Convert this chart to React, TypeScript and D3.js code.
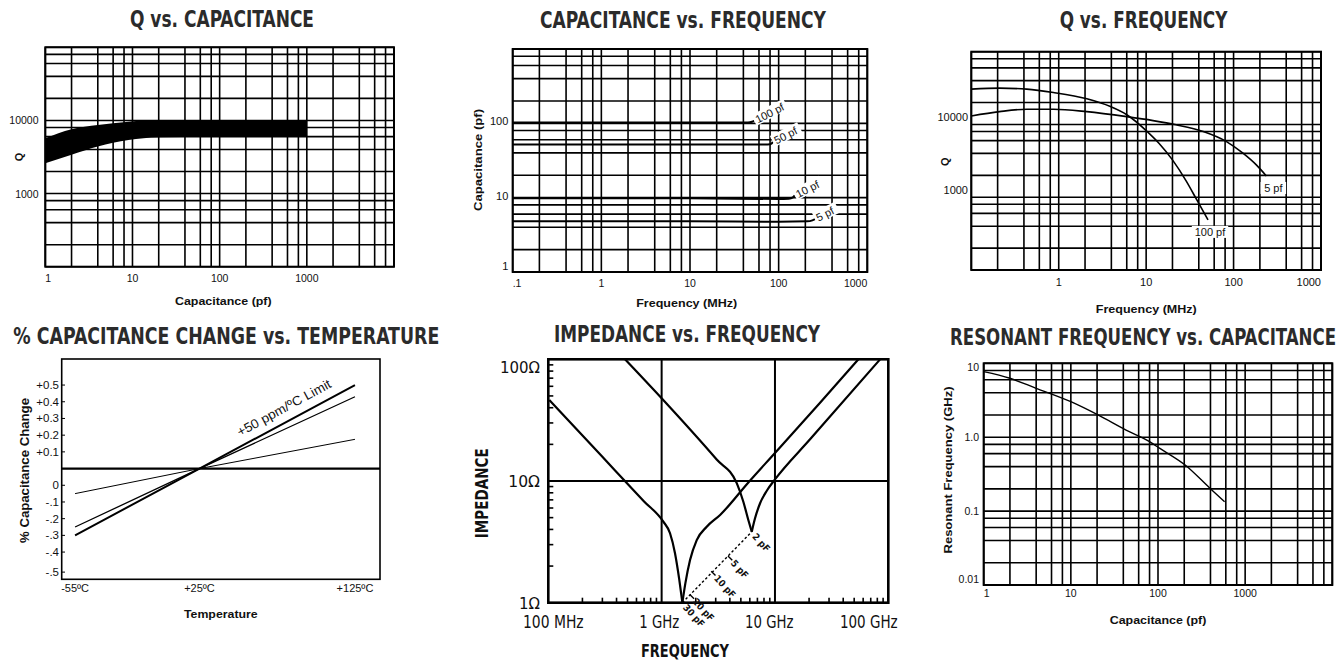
import React, { useLayoutEffect, useRef, useState } from "react";
import * as d3 from "d3";

const W = 1343;
const H = 665;
const SANS = "'Liberation Sans', Arial, Helvetica, sans-serif";
const NARROW = "'Liberation Sans Narrow', 'DejaVu Sans Condensed', 'Arial Narrow', 'Liberation Sans', sans-serif";

// mantissas of the printed log grid (1, 2, 4, 6, 8 per decade)
const gridSteps = [1, 2, 4, 6, 8];

// ---- Q vs. capacitance (band)
const qcCap = [1, 2, 4, 9, 20, 70, 1000];
const qcUpper = [5700, 7600, 8650, 9600, 10100, 10100, 9900];
const qcLower = [2600, 3400, 4400, 5400, 5900, 6000, 6100];
const qcXTicks = [1, 10, 100, 1000];
const qcYTicks = [10000, 1000];

// ---- Capacitance vs. frequency
const cf100Freq = [0.1, 1, 10, 45, 50, 53];
const cf100Cap = [103, 103, 103, 103, 105, 108];
const cf50Freq = [0.1, 1, 10, 70, 80, 84, 86];
const cf50Cap = [52, 52, 52, 52, 52.5, 54, 56.5];
const cf10Freq = [0.1, 1, 10, 100, 130, 145, 152];
const cf10Cap = [9.8, 9.8, 9.8, 9.6, 9.7, 10.1, 10.7];
const cf5Freq = [0.1, 1, 10, 100, 210, 240, 257];
const cf5Cap = [4.8, 4.8, 4.8, 4.75, 4.8, 4.95, 5.15];
const cfLabels = ["100 pf", "50 pf", "10 pf", "5 pf"];
const cfXTicks = [0.1, 1, 10, 100, 1000];
const cfXTickText = [".1", "1", "10", "100", "1000"];
const cfYTicks = [100, 10, 1];

// ---- Q vs. frequency
const qf100Freq = [0.1, 0.21, 0.43, 0.87, 2.1, 3.9, 6, 10, 14, 20, 29, 38, 51];
const qf100Q = [30600, 31600, 30600, 27500, 22500, 17600, 13600, 8250, 5530, 3260, 1640, 918, 488];
const qf5Freq = [0.1, 0.21, 0.43, 0.87, 2.1, 6, 12, 22, 45, 83, 128, 182, 237];
const qf5Q = [13100, 15000, 16200, 16200, 15000, 12800, 11300, 9890, 8000, 5820, 4030, 2780, 1960];
const qfXTicks = [1, 10, 100, 1000];
const qfYTicks = [10000, 1000];

// ---- % capacitance change vs. temperature
const tcTemp = [-55, 25, 125];
const tcLimit = [-0.4, 0, 0.5];
const tcMid = [-0.35, 0, 0.43];
const tcLow = [-0.15, 0, 0.175];
const tcYTickAt = [0.5, 0.4, 0.3, 0.2, 0.1, -0.1, -0.2, -0.3, -0.4, -0.5, -0.62];
const tcYTickText = ["+0.5", "+0.4", "+0.3", "+0.2", "+0.1", "0", "-.1", "-.2", "-.3", "-.4", "-.5"];
const tcXTicks = [-55, 25, 125];
const tcXTickText = ["-55ºC", "+25ºC", "+125ºC"];

// ---- Impedance vs. frequency (GHz, ohm)
const z30Freq = [0.102, 0.3, 0.7, 1.035, 1.186, 1.312, 1.432, 1.524, 1.619, 1.781, 2.04, 2.5, 3.28, 5.75, 10, 25, 54.5];
const z30Ohm = [46.3, 15.8, 6.8, 4.63, 3.72, 2.55, 1.54, 1.0, 1.44, 2.24, 3.27, 4.21, 5.26, 9.6, 17, 44, 100];
const z2Freq = [0.475, 1.0, 3.06, 4.6, 5.26, 5.82, 6.24, 6.67, 7.39, 8.47, 10.0, 20.4, 84.7];
const z2Ohm = [100, 47.8, 15, 9.6, 6.76, 4.78, 3.83, 4.94, 6.56, 8.32, 10.3, 22, 100];
const resFreq = [1.524, 1.85, 2.86, 4.02, 6.24];
const resOhm = [1.0, 1.12, 1.74, 2.32, 3.83];
const resLabels = ["30 pF", "20 pF", "10 pF", "5 pF", "2 pF"];
const zXTicks = [0.1, 1, 10, 100];
const zXTickText = ["100 MHz", "1 GHz", "10 GHz", "100 GHz"];
const zYTicks = [100, 10, 1];
const zYTickText = ["100Ω", "10Ω", "1Ω"];

// ---- Resonant frequency vs. capacitance
const rfCap = [1, 2, 4, 10, 20.5, 43, 80, 104, 205, 394, 581];
const rfGHz = [7.7, 6.27, 4.59, 3.02, 2.0, 1.25, 0.87, 0.71, 0.42, 0.204, 0.134];
const rfXTicks = [1, 10, 100, 1000];
const rfYTicks = [10, 1, 0.1, 0.01];
const rfYTickText = ["10", "1.0", "0.1", "0.01"];

type LogS = d3.ScaleLogarithmic<number, number>;

// scales
const x1 = d3.scaleLog().domain([1, 10000]).range([45.3, 394]);
const y1 = d3.scaleLog().domain([100, 100000]).range([266.7, 47.3]);
const x2 = d3.scaleLog().domain([0.1, 1000]).range([512.7, 867.3]);
const y2 = d3.scaleLog().domain([1, 1000]).range([272, 49]);
const x3 = d3.scaleLog().domain([0.1, 1000]).range([971.3, 1321]);
const y3 = d3.scaleLog().domain([100, 100000]).range([270, 51.7]);
const x4 = d3.scaleLinear().domain([-63.6, 141.1]).range([61.7, 380]);
const y4 = d3.scaleLinear().domain([-0.663, 0.656]).range([579.3, 359]);
const x5 = d3.scaleLog().domain([0.1, 100]).range([548.3, 888.3]);
const y5 = d3.scaleLog().domain([1, 100]).range([602.7, 359.3]);
const x6 = d3.scaleLog().domain([1, 10000]).range([983.7, 1332.3]);
const y6 = d3.scaleLog().domain([0.01, 10]).range([585, 363.3]);

function logLines(lo: number, hi: number) {
  const out: number[] = [];
  for (let e = Math.floor(Math.log10(lo)); e <= Math.ceil(Math.log10(hi)); e++) {
    for (const m of gridSteps) {
      const v = m * Math.pow(10, e);
      if (v >= lo * 0.999 && v <= hi * 1.001) out.push(v);
    }
  }
  return out;
}

function LogGrid({ x, y }: { x: LogS; y: LogS }) {
  const [xa, xb] = x.range();
  const [yb, ya] = y.range();
  const [dx0, dx1] = x.domain();
  const [dy0, dy1] = y.domain();
  return (
    <g stroke="#000" fill="none">
      {logLines(dx0, dx1).map((v) => (
        <line key={"gx" + v} x1={x(v)} x2={x(v)} y1={ya} y2={yb} strokeWidth={1.6} />
      ))}
      {logLines(dy0, dy1).map((v) => (
        <line key={"gy" + v} x1={xa} x2={xb} y1={y(v)} y2={y(v)} strokeWidth={1.6} />
      ))}
      <rect x={xa} y={ya} width={xb - xa} height={yb - ya} strokeWidth={2} />
    </g>
  );
}

function Txt({ x, y, children, size = 11, bold = false, anchor = "middle", len, rot = 0, family = SANS, fill = "#111", baseline }: any) {
  return (
    <text
      transform={`translate(${x},${y}) rotate(${rot})`}
      fontSize={size}
      fontWeight={bold ? 700 : 400}
      textAnchor={anchor}
      fontFamily={family}
      fill={fill}
      textLength={len}
      lengthAdjust={len ? "spacingAndGlyphs" : undefined}
      dominantBaseline={baseline}
    >
      {children}
    </text>
  );
}

// condensed title: measure natural width, then squeeze horizontally to the target width
function Title({ x, y, len, children, anchor = "middle" }: any) {
  const ref = useRef<SVGTextElement>(null);
  const [sx, setSx] = useState(0.78);
  useLayoutEffect(() => {
    if (!ref.current) return;
    const w = ref.current.getComputedTextLength();
    if (w > 0) setSx(len / w);
  }, [len]);
  return (
    <text
      ref={ref}
      transform={`translate(${x},${y}) scale(${sx},1)`}
      fontSize={23}
      fontWeight={700}
      textAnchor={anchor}
      fontFamily={NARROW}
      fill="#2b2b2b"
    >
      {children}
    </text>
  );
}

function LogXLabels({ x, values, texts, y, size = 10.5 }: any) {
  const [a, b] = x.range();
  return (
    <g>
      {values.map((v: number, i: number) => {
        const px = x(v);
        const anchor = Math.abs(px - a) < 0.5 ? "start" : Math.abs(px - b) < 0.5 ? "end" : "middle";
        return (
          <Txt key={i} x={px} y={y} size={size} anchor={anchor}>
            {texts ? texts[i] : String(v)}
          </Txt>
        );
      })}
    </g>
  );
}

function LogYLabels({ y, values, texts, x, size = 10.5, dy = 4 }: any) {
  const [b, t] = y.range();
  return (
    <g>
      {values.map((v: number, i: number) => {
        const py = Math.min(Math.max(y(v) + dy, t + size * 0.72), b - 2);
        return (
          <Txt key={i} x={x} y={py} size={size} anchor="end">
            {texts ? texts[i] : String(v)}
          </Txt>
        );
      })}
    </g>
  );
}

function seriesLine(xs: any, ys: any, fx: number[], fy: number[], curve: any = d3.curveMonotoneX) {
  return d3
    .line<number>()
    .x((_, i) => xs(fx[i]))
    .y((_, i) => ys(fy[i]))
    .curve(curve)(fx) as string;
}

function branches(fx: number[], fy: number[]) {
  // split a V-shaped impedance curve at its minimum so the cusp stays sharp
  const k = fy.indexOf(Math.min(...fy));
  return [
    seriesLine(x5, y5, fx.slice(0, k + 1), fy.slice(0, k + 1)),
    seriesLine(x5, y5, fx.slice(k), fy.slice(k)),
  ];
}

export default function App() {
  const band = d3
    .area<number>()
    .x((_, i) => x1(qcCap[i]))
    .y0((_, i) => y1(qcLower[i]))
    .y1((_, i) => y1(qcUpper[i]))
    .curve(d3.curveMonotoneX)(qcCap) as string;

  const cfSeries = [
    [cf100Freq, cf100Cap],
    [cf50Freq, cf50Cap],
    [cf10Freq, cf10Cap],
    [cf5Freq, cf5Cap],
  ];

  // resonance locus direction (for the small cross marks)
  const rp = resFreq.map((f, i) => [x5(f), y5(resOhm[i])]);
  const ddx = rp[rp.length - 1][0] - rp[0][0];
  const ddy = rp[rp.length - 1][1] - rp[0][1];
  const dl = Math.hypot(ddx, ddy);
  const perp = [-ddy / dl, ddx / dl];
  const labRot = 48;
  const labDir = [Math.cos((labRot * Math.PI) / 180), Math.sin((labRot * Math.PI) / 180)];

  const minorF = x5.ticks().filter((v) => Math.abs(Math.log10(v) - Math.round(Math.log10(v))) > 1e-6);
  const minorZ = y5.ticks().filter((v) => Math.abs(Math.log10(v) - Math.round(Math.log10(v))) > 1e-6);

  const tempLine = (vals: number[]) =>
    d3
      .line<number>()
      .x((_, i) => x4(tcTemp[i]))
      .y((_, i) => y4(vals[i]))(tcTemp) as string;

  const [p5x0, p5x1] = x5.range();
  const [p5y1, p5y0] = y5.range();

  return (
    <svg width={W} height={H} style={{ position: "absolute", left: 0, top: 0, background: "#fff" }}>
      <rect width={W} height={H} fill="#fff" />

      {/* ---------- Q vs. CAPACITANCE ---------- */}
      <Title x={222} y={27.3} len={184}>Q vs. CAPACITANCE</Title>
      <LogGrid x={x1} y={y1} />
      <path d={band} fill="#000" />
      <LogXLabels x={x1} values={qcXTicks} y={281.7} />
      <LogYLabels y={y1} values={qcYTicks} x={38.5} dy={4} />
      <Txt x={19} y={157} rot={-90} bold size={11} baseline="central">Q</Txt>
      <Txt x={223.3} y={305} bold size={11.5} len={96.7}>Capacitance (pf)</Txt>

      {/* ---------- CAPACITANCE vs. FREQUENCY ---------- */}
      <Title x={683} y={27.5} len={286}>CAPACITANCE vs. FREQUENCY</Title>
      <LogGrid x={x2} y={y2} />
      <g fill="none" stroke="#000" strokeWidth={2}>
        {cfSeries.map(([fx, fy], i) => (
          <path key={i} d={seriesLine(x2, y2, fx, fy)} />
        ))}
      </g>
      {cfSeries.map(([fx, fy], i) => {
        const px = x2(fx[fx.length - 1]);
        const py = y2(fy[fy.length - 1]);
        const len = cfLabels[i].length * 5.3;
        return (
          <g key={i} transform={`translate(${px},${py}) rotate(-27)`}>
            <rect x={0} y={-6.5} width={len + 4} height={12} fill="#fff" />
            <text x={2} y={4} fontSize={11} fontFamily={SANS} fill="#111">
              {cfLabels[i]}
            </text>
          </g>
        );
      })}
      <LogXLabels x={x2} values={cfXTicks} texts={cfXTickText} y={286.7} />
      <LogYLabels y={y2} values={cfYTicks} x={508.3} dy={2} size={11} />
      <Txt x={478} y={160} rot={-90} bold size={11.5} len={102} baseline="central">Capacitance (pf)</Txt>
      <Txt x={686.7} y={306.7} bold size={11.5} len={101}>Frequency (MHz)</Txt>

      {/* ---------- Q vs. FREQUENCY ---------- */}
      <Title x={1143.5} y={28.3} len={167.6}>Q vs. FREQUENCY</Title>
      <LogGrid x={x3} y={y3} />
      <g fill="none" stroke="#000" strokeWidth={1.6}>
        <path d={seriesLine(x3, y3, qf100Freq, qf100Q)} />
        <path d={seriesLine(x3, y3, qf5Freq, qf5Q)} />
      </g>
      {[
        { f: qf5Freq, q: qf5Q, t: "5 pf", dx: 7 },
        { f: qf100Freq, q: qf100Q, t: "100 pf", dx: 2 },
      ].map((s, i) => {
        const px = x3(s.f[s.f.length - 1]) + s.dx;
        const py = y3(s.q[s.q.length - 1]) + 12;
        const len = s.t.length * 5.4;
        return (
          <g key={i}>
            <rect x={px - len / 2 - 2} y={py - 6} width={len + 4} height={12} fill="#fff" />
            <Txt x={px} y={py + 4} size={11}>{s.t}</Txt>
          </g>
        );
      })}
      <LogXLabels x={x3} values={qfXTicks} y={286} size={11} />
      <LogYLabels y={y3} values={qfYTicks} x={968} dy={-3.5} size={11} />
      <Txt x={944.7} y={161.7} rot={-90} bold size={11} baseline="central">Q</Txt>
      <Txt x={1146.3} y={313.3} bold size={11.5} len={101}>Frequency (MHz)</Txt>

      {/* ---------- % CAPACITANCE CHANGE vs. TEMPERATURE ---------- */}
      <Title x={226.3} y={344} len={426}>% CAPACITANCE CHANGE vs. TEMPERATURE</Title>
      <rect x={61.7} y={359} width={380 - 61.7} height={579.3 - 359} fill="none" stroke="#000" strokeWidth={1.6} />
      <line x1={61.7} x2={380} y1={y4(0)} y2={y4(0)} stroke="#000" strokeWidth={2.2} />
      <g fill="none" stroke="#000">
        <path d={tempLine(tcLimit)} strokeWidth={2} />
        <path d={tempLine(tcMid)} strokeWidth={1.3} />
        <path d={tempLine(tcLow)} strokeWidth={1} />
      </g>
      {tcYTickAt.map((v, i) => (
        <g key={i}>
          <line x1={61.7} x2={65} y1={y4(v)} y2={y4(v)} stroke="#000" strokeWidth={1} />
          <Txt x={59} y={y4(v) + 4} size={11.5} anchor="end">{tcYTickText[i]}</Txt>
        </g>
      ))}
      {tcXTicks.map((v, i) => (
        <Txt key={i} x={x4(v)} y={591.7} size={11}>{tcXTickText[i]}</Txt>
      ))}
      <Txt x={x4(51)} y={y4(0.005 * (51 - 25)) - 10} size={13} anchor="start" rot={-28.5} len={105}>
        +50 ppm/ºC Limit
      </Txt>
      <Txt x={25} y={470.5} rot={-90} bold size={12} len={145} baseline="central">% Capacitance Change</Txt>
      <Txt x={220.8} y={617.7} bold size={11.5} len={73.7}>Temperature</Txt>

      {/* ---------- IMPEDANCE vs. FREQUENCY ---------- */}
      <Title x={687} y={341.7} len={266}>IMPEDANCE vs. FREQUENCY</Title>
      <g stroke="#000" fill="none">
        <line x1={x5(1)} x2={x5(1)} y1={p5y0} y2={p5y1} strokeWidth={2} />
        <line x1={x5(10)} x2={x5(10)} y1={p5y0} y2={p5y1} strokeWidth={2} />
        <line x1={p5x0} x2={p5x1} y1={y5(10)} y2={y5(10)} strokeWidth={2} />
        {minorF.map((v) => (
          <line key={"mf" + v} x1={x5(v)} x2={x5(v)} y1={p5y1} y2={p5y1 - 5} strokeWidth={1.6} />
        ))}
        {minorZ.map((v) => (
          <line key={"mz" + v} x1={p5x0} x2={p5x0 + 5} y1={y5(v)} y2={y5(v)} strokeWidth={1.6} />
        ))}
        <rect x={p5x0} y={p5y0} width={p5x1 - p5x0} height={p5y1 - p5y0} strokeWidth={2.6} />
        {[...branches(z30Freq, z30Ohm), ...branches(z2Freq, z2Ohm)].map((d, i) => (
          <path key={i} d={d} strokeWidth={2.2} />
        ))}
        <line x1={rp[0][0]} y1={rp[0][1]} x2={rp[rp.length - 1][0]} y2={rp[rp.length - 1][1]} strokeWidth={1.4} strokeDasharray="2.5,2.2" />
        {rp.slice(1, rp.length - 1).map((p, i) => (
          <line key={"rm" + i} x1={p[0] - perp[0] * 3} y1={p[1] - perp[1] * 3} x2={p[0] + perp[0] * 3} y2={p[1] + perp[1] * 3} strokeWidth={1.4} />
        ))}
      </g>
      {rp.map((p, i) => (
        <Txt
          key={i}
          x={p[0] + labDir[0] * 4}
          y={p[1] + labDir[1] * 4}
          size={9.5}
          bold
          family={NARROW}
          anchor="start"
          rot={labRot}
          baseline="central"
        >
          {resLabels[i]}
        </Txt>
      ))}
      {zXTicks.map((v, i) => {
        const shift = [5, -2.3, -5.7, -19.5][i];
        const len = [60.7, 40, 48.3, 57.7][i];
        return (
          <Txt key={i} x={x5(v) + shift} y={628.3} size={18} family={NARROW} len={len}>
            {zXTickText[i]}
          </Txt>
        );
      })}
      {zYTicks.map((v, i) => {
        const len = [40, 31.7, 21][i];
        return (
          <Txt key={i} x={540} y={Math.max(y5(v) + 6, p5y0 + 14)} size={16} family={NARROW} anchor="end" len={len}>
            {zYTickText[i]}
          </Txt>
        );
      })}
      <Txt x={482.3} y={493.3} rot={-90} bold size={17} family={NARROW} len={90} baseline="central">IMPEDANCE</Txt>
      <Txt x={685} y={657.3} bold size={17} family={NARROW} len={88}>FREQUENCY</Txt>

      {/* ---------- RESONANT FREQUENCY vs. CAPACITANCE ---------- */}
      <Title x={950} y={345} len={386} anchor="start">RESONANT FREQUENCY vs. CAPACITANCE</Title>
      <LogGrid x={x6} y={y6} />
      <path d={seriesLine(x6, y6, rfCap, rfGHz)} fill="none" stroke="#000" strokeWidth={1.4} />
      <LogXLabels x={x6} values={rfXTicks} y={597.3} size={10.5} />
      <LogYLabels y={y6} values={rfYTicks} texts={rfYTickText} x={979} dy={4} size={10.5} />
      <Txt x={948} y={470} rot={-90} bold size={11.5} len={167} baseline="central">Resonant Frequency (GHz)</Txt>
      <Txt x={1158} y={624} bold size={11.5} len={96.7}>Capacitance (pf)</Txt>
    </svg>
  );
}
